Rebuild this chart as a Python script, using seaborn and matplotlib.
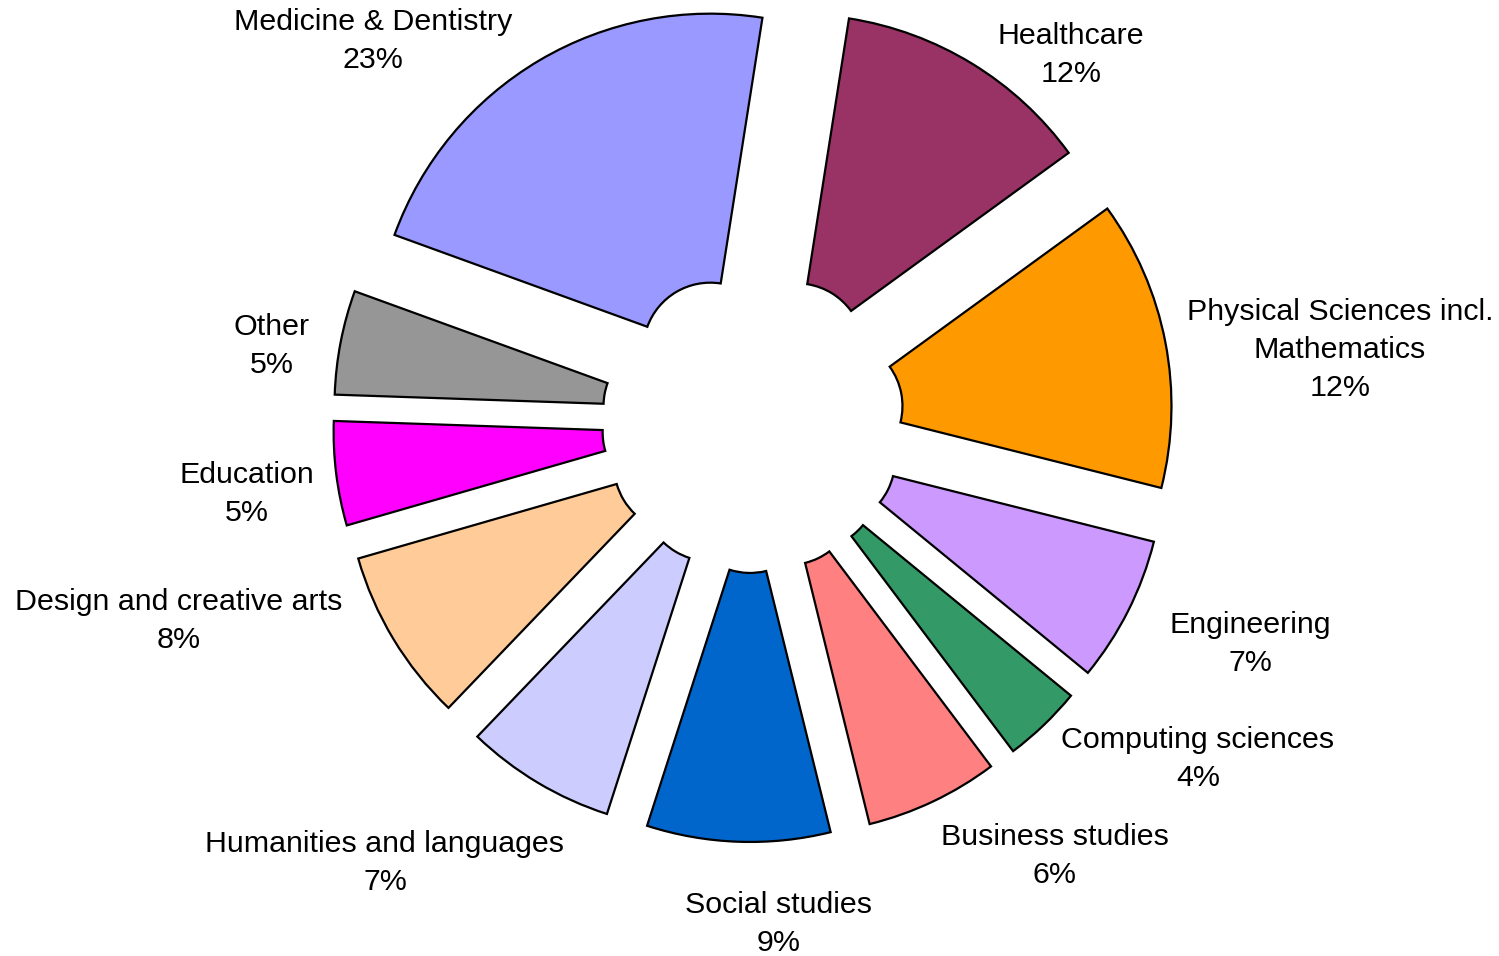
import numpy as np
import pandas as pd
import seaborn as sns
import matplotlib.pyplot as plt

# Slices listed clockwise, starting at the top with Healthcare
subjects = ["Healthcare", "Physical Sciences incl.\nMathematics", "Engineering",
            "Computing sciences", "Business studies", "Social studies",
            "Humanities and languages", "Design and creative arts",
            "Education", "Other", "Medicine & Dentistry"]
# share of the full circle (%) as drawn
shares = [12.5, 13.9, 7.0, 3.8, 6.4, 8.8, 7.2, 8.35, 5.0, 5.0, 21.9]
# percentages printed in the labels
pct_labels = ["12%", "12%", "7%", "4%", "6%", "9%", "7%", "8%", "5%", "5%",
              "23%"]
colors = ["#993366", "#FF9900", "#CC99FF", "#339966", "#FF8080", "#0066CC",
          "#CCCCFF", "#FFCC99", "#FF00FF", "#969696", "#9999FF"]

# label block centres in pixels (x from left, y from top)
label_xy = [(1071, 55), (1340, 350), (1250, 644), (1198, 759), (1055, 856),
            (779, 924), (385, 863), (179, 621), (247, 494), (272, 346),
            (373, 41)]

W, H = 1499, 956


def main():
    df = pd.DataFrame({"subject": subjects, "share": shares,
                       "pct": pct_labels})

    sns.set_theme(style="white")
    plt.rcParams["font.family"] = ["Liberation Sans", "DejaVu Sans"]
    palette = sns.color_palette(colors)

    fig = plt.figure(figsize=(W / 100, H / 100), dpi=100)
    ax = fig.add_axes([0, 0, 1, 1])

    radius = 336
    ax.pie(df["share"], colors=palette, startangle=81.07, counterclock=False,
           radius=radius, center=(753, H - 422), explode=[84] * len(df),
           wedgeprops=dict(width=269, edgecolor="black", linewidth=1.6))

    for (x, y), name, pct in zip(label_xy, df["subject"], df["pct"]):
        ax.text(x, H - y, "{}\n{}".format(name, pct), ha="center",
                va="center", fontsize=21.9, color="black", linespacing=1.47)

    ax.set_xlim(0, W)
    ax.set_ylim(0, H)
    ax.set_aspect("equal")
    ax.axis("off")
    fig.savefig("out.png", dpi=100, facecolor="white")


if __name__ == "__main__":
    main()
